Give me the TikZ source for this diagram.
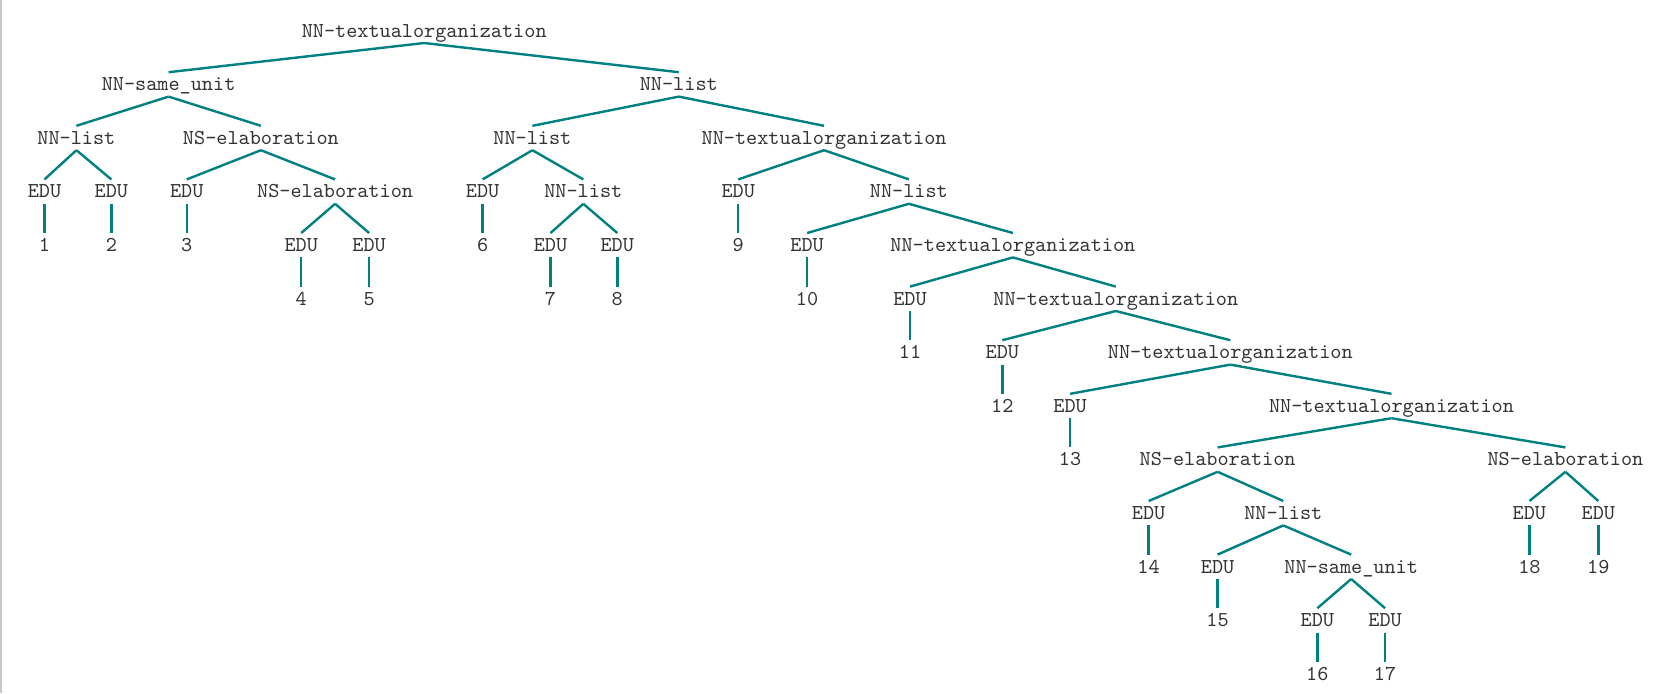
\documentclass[tikz,border=0pt]{standalone}
\usepackage{fontspec}
\definecolor{edgecol}{RGB}{0,128,128}
\definecolor{txtcol}{RGB}{51,51,51}
\definecolor{bordercol}{RGB}{200,200,200}
\begin{document}
\begin{tikzpicture}[x=0.5pt,y=-0.5pt,
  lab/.style={font=\ttfamily\fontsize{10.6}{12}\selectfont, text=txtcol, inner sep=0pt,
    text height=6.2pt, text depth=0pt, minimum height=11.8pt},
  edge/.style={draw=edgecol, line width=1.2pt}]
\useasboundingbox (0,0) rectangle (1663,693);
\fill[bordercol] (0,0) rectangle (1.6,693);
% rows
\def\ra{30.8}\def\rb{84.4}\def\rc{138}\def\rd{191.6}\def\re{245.2}\def\rf{298.8}\def\rg{352.4}
\def\rh{406}\def\ri{459.6}\def\rj{513.2}\def\rk{566.8}\def\rl{620.4}\def\rm{674}
\node[lab] (root) at (424.2,\ra) {NN-textualorganization};
\node[lab] (a) at (168.6,\rb) {NN-same\_unit};
\node[lab] (b) at (678.8,\rb) {NN-list};
\node[lab] (a1) at (76.4,\rc) {NN-list};
\node[lab] (a2) at (260.9,\rc) {NS-elaboration};
\node[lab] (a11) at (44.5,\rd) {EDU};
\node[lab] (n1) at (44.5,\re) {1};
\node[lab] (a12) at (111.4,\rd) {EDU};
\node[lab] (n2) at (111.4,\re) {2};
\node[lab] (a21) at (186.7,\rd) {EDU};
\node[lab] (n3) at (186.7,\re) {3};
\node[lab] (a22) at (335.1,\rd) {NS-elaboration};
\node[lab] (a221) at (301.2,\re) {EDU};
\node[lab] (n4) at (301.2,\rf) {4};
\node[lab] (a222) at (369.1,\re) {EDU};
\node[lab] (n5) at (369.1,\rf) {5};
\node[lab] (b1) at (532.4,\rc) {NN-list};
\node[lab] (b2) at (824.1,\rc) {NN-textualorganization};
\node[lab] (b11) at (482.6,\rd) {EDU};
\node[lab] (n6) at (482.6,\re) {6};
\node[lab] (b12) at (583.3,\rd) {NN-list};
\node[lab] (b121) at (550.5,\re) {EDU};
\node[lab] (n7) at (550.5,\rf) {7};
\node[lab] (b122) at (617.3,\re) {EDU};
\node[lab] (n8) at (617.3,\rf) {8};
\node[lab] (b21) at (738.2,\rd) {EDU};
\node[lab] (n9) at (738.2,\re) {9};
\node[lab] (b22) at (908.9,\rd) {NN-list};
\node[lab] (b221) at (807.1,\re) {EDU};
\node[lab] (n10) at (807.1,\rf) {10};
\node[lab] (b222) at (1012.9,\re) {NN-textualorganization};
\node[lab] (c1) at (910,\rf) {EDU};
\node[lab] (n11) at (910,\rg) {11};
\node[lab] (c2) at (1115.8,\rf) {NN-textualorganization};
\node[lab] (c21) at (1002.3,\rg) {EDU};
\node[lab] (n12) at (1002.3,\rh) {12};
\node[lab] (c22) at (1230.3,\rg) {NN-textualorganization};
\node[lab] (c221) at (1070.1,\rh) {EDU};
\node[lab] (n13) at (1070.1,\ri) {13};
\node[lab] (c222) at (1391.5,\rh) {NN-textualorganization};
\node[lab] (d1) at (1217.6,\ri) {NS-elaboration};
\node[lab] (d2) at (1565.4,\ri) {NS-elaboration};
\node[lab] (d11) at (1148.6,\rj) {EDU};
\node[lab] (n14) at (1148.6,\rk) {14};
\node[lab] (d12) at (1283.3,\rj) {NN-list};
\node[lab] (d121) at (1217.6,\rk) {EDU};
\node[lab] (n15) at (1217.6,\rl) {15};
\node[lab] (d122) at (1351.2,\rk) {NN-same\_unit};
\node[lab] (d1221) at (1317.3,\rl) {EDU};
\node[lab] (n16) at (1317.3,\rm) {16};
\node[lab] (d1222) at (1385.1,\rl) {EDU};
\node[lab] (n17) at (1385.1,\rm) {17};
\node[lab] (d21) at (1529.4,\rj) {EDU};
\node[lab] (n18) at (1529.4,\rk) {18};
\node[lab] (d22) at (1598.3,\rj) {EDU};
\node[lab] (n19) at (1598.3,\rk) {19};
\foreach \p/\c in {root/a,root/b,a/a1,a/a2,a1/a11,a1/a12,a11/n1,a12/n2,a2/a21,a2/a22,a21/n3,
  a22/a221,a22/a222,a221/n4,a222/n5,b/b1,b/b2,b1/b11,b1/b12,b11/n6,b12/b121,b12/b122,b121/n7,b122/n8,
  b2/b21,b2/b22,b21/n9,b22/b221,b22/b222,b221/n10,b222/c1,b222/c2,c1/n11,c2/c21,c2/c22,c21/n12,
  c22/c221,c22/c222,c221/n13,c222/d1,c222/d2,d1/d11,d1/d12,d11/n14,d12/d121,d12/d122,d121/n15,
  d122/d1221,d122/d1222,d1221/n16,d1222/n17,d2/d21,d2/d22,d21/n18,d22/n19}
  \draw[edge] (\p.south) -- (\c.north);
\end{tikzpicture}
\end{document}
